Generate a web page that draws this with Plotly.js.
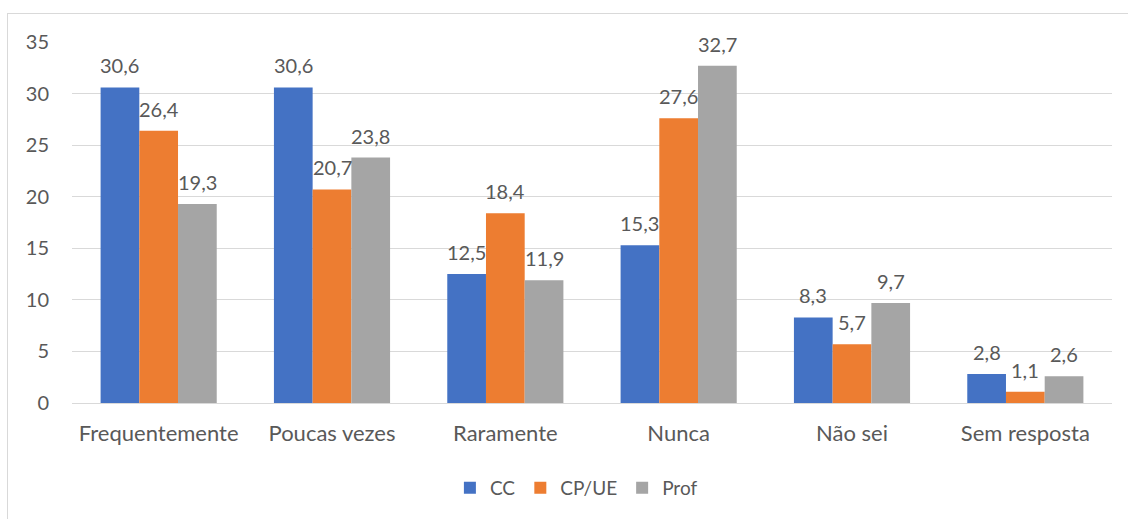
<!DOCTYPE html>
<html>
<head>
<meta charset="utf-8">
<script src="https://cdn.plot.ly/plotly-3.0.1.min.js"></script>
<style>
html,body{margin:0;padding:0;background:#fff;}
#frame{position:absolute;left:7px;top:13px;width:1140px;height:540px;border:1px solid #d9d9d9;box-sizing:border-box;}
#chart{position:absolute;left:0;top:0;width:1128px;height:519px;}
</style>
</head>
<body>
<div id="frame"></div>
<div id="chart"></div>
<script>
var categories = ["Frequentemente", "Poucas vezes", "Raramente", "Nunca", "Não sei", "Sem resposta"];
var seriesNames = ["CC", "CP/UE", "Prof"];
var cc = [30.6, 30.6, 12.5, 15.3, 8.3, 2.8];
var cpue = [26.4, 20.7, 18.4, 27.6, 5.7, 1.1];
var prof = [19.3, 23.8, 11.9, 32.7, 9.7, 2.6];
var yTicks = [0, 5, 10, 15, 20, 25, 30, 35];

var colors = ["#4472c4", "#ed7d31", "#a5a5a5"];
var values = [cc, cpue, prof];
var txtColor = "#595959";
var fontFam = "Lato, Carlito, 'DejaVu Sans', sans-serif";

var W = 1128, H = 519;
var margin = { l: 72, r: 16, t: 42, b: 114 };
var bargap = 0.33;

var traces = values.map(function (v, i) {
  return {
    type: "bar",
    name: seriesNames[i],
    x: categories,
    y: v,
    marker: { color: colors[i] },
    hoverinfo: "x+y+name"
  };
});

// value labels placed above each bar, read from the same arrays
var catWidthPx = (W - margin.l - margin.r) / categories.length;
var barWidthPx = catWidthPx * (1 - bargap) / values.length;
var annotations = [];
values.forEach(function (v, i) {
  v.forEach(function (val, j) {
    annotations.push({
      x: categories[j],
      y: val,
      xref: "x",
      yref: "y",
      text: val.toFixed(1).replace(".", ","),
      showarrow: false,
      xanchor: "center",
      yanchor: "bottom",
      xshift: (i - (values.length - 1) / 2) * barWidthPx,
      yshift: 8,
      font: { family: fontFam, size: 20, color: txtColor }
    });
  });
});

var layout = {
  width: W,
  height: H,
  margin: margin,
  paper_bgcolor: "rgba(0,0,0,0)",
  plot_bgcolor: "rgba(0,0,0,0)",
  separators: ",.",
  barmode: "group",
  bargap: bargap,
  bargroupgap: 0,
  font: { family: fontFam, size: 20, color: txtColor },
  xaxis: {
    type: "category",
    showgrid: false,
    showline: true,
    linecolor: "#d9d9d9",
    linewidth: 1,
    ticks: "",
    tickfont: { family: fontFam, size: 22, color: txtColor },
    ticklabelstandoff: 11
  },
  yaxis: {
    range: [0, 35],
    tickvals: yTicks,
    ticktext: yTicks.map(String),
    showgrid: true,
    gridcolor: "#d9d9d9",
    gridwidth: 1,
    zeroline: false,
    showline: false,
    ticks: "",
    tickfont: { family: fontFam, size: 20, color: txtColor },
    ticklabelstandoff: 22
  },
  annotations: annotations,
  showlegend: true,
  legend: {
    orientation: "h",
    x: 0.485,
    xanchor: "center",
    y: -0.235,
    yanchor: "middle",
    font: { family: fontFam, size: 19, color: txtColor },
    itemwidth: 30,
    tracegroupgap: 0
  }
};

Plotly.newPlot("chart", traces, layout, { displayModeBar: false, staticPlot: true });
</script>
</body>
</html>
